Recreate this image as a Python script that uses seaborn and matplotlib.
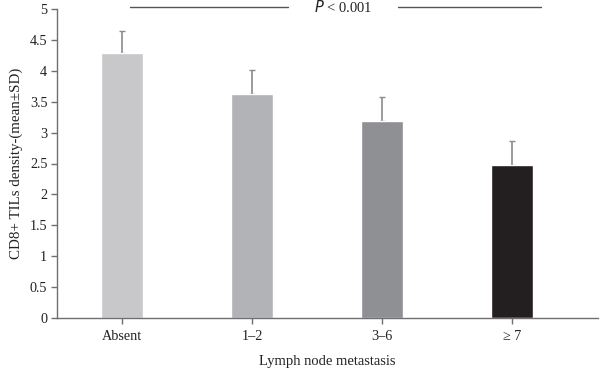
import matplotlib
matplotlib.use("Agg")
import matplotlib.pyplot as plt
import seaborn as sns
import pandas as pd

categories = ["Absent", "1\u20132", "3\u20136", "\u2265 7"]
means = [4.28, 3.62, 3.18, 2.48]
sds = [0.37, 0.39, 0.39, 0.38]
colors = ["#c8c8ca", "#b2b3b6", "#8f9093", "#231f20"]
yticks = [0, 0.5, 1, 1.5, 2, 2.5, 3, 3.5, 4, 4.5, 5]
ytick_labels = ["0", "0.5", "1", "1.5", "2", "2.5", "3", "3.5", "4", "4.5", "5"]

sns.set_theme(style="white")
plt.rcParams['font.family'] = ['Liberation Serif', 'DejaVu Serif']

df = pd.DataFrame({"cat": categories, "mean": means})

fig = plt.figure(figsize=(6, 3.7), dpi=100)
ax = fig.add_axes([57/600, 1 - 318/370, (598-57)/600, (318-9)/370])

sns.barplot(data=df, x="cat", y="mean", hue="cat", palette=colors, legend=False,
            width=0.32, errorbar=None, ax=ax, saturation=1)
ax.errorbar(range(len(categories)), means, yerr=[[0]*len(sds), sds], fmt="none",
            ecolor="#8a8a8c", elinewidth=1.2, capsize=2.5, capthick=1.0, zorder=1)
for p in ax.patches:
    p.set_zorder(2)

ax.set_xlim(-0.5, 3.66)
ax.set_ylim(0, 5)
ax.set_yticks(yticks)
ax.set_yticklabels(ytick_labels)
for s in ["top", "right"]:
    ax.spines[s].set_visible(False)
for s in ["left", "bottom"]:
    ax.spines[s].set_color("#6f6f6f")
    ax.spines[s].set_linewidth(1.0)
ax.tick_params(axis="both", which="both", direction="out", length=4, width=1,
               color="#6f6f6f", labelsize=10.2, labelcolor="#222222", pad=3,
               bottom=True, left=True)
ax.tick_params(axis="x", pad=5)
ax.set_xlabel("Lymph node metastasis", fontsize=10.5, color="#222222", labelpad=8)
ax.set_ylabel("CD8+ TILs density-(mean\u00b1SD)", fontsize=10.8, color="#222222", labelpad=5)

# significance annotation
ax.plot([0.06, 1.28], [5.03, 5.03], color="#555555", lw=1.0, clip_on=False)
ax.plot([2.12, 3.22], [5.03, 5.03], color="#555555", lw=1.0, clip_on=False)
ax.text(1.7, 5.03, "$P$ < 0.001", ha="center", va="center", fontsize=10.5,
        color="#222222", clip_on=False)

fig.savefig("out.png", dpi=100)
